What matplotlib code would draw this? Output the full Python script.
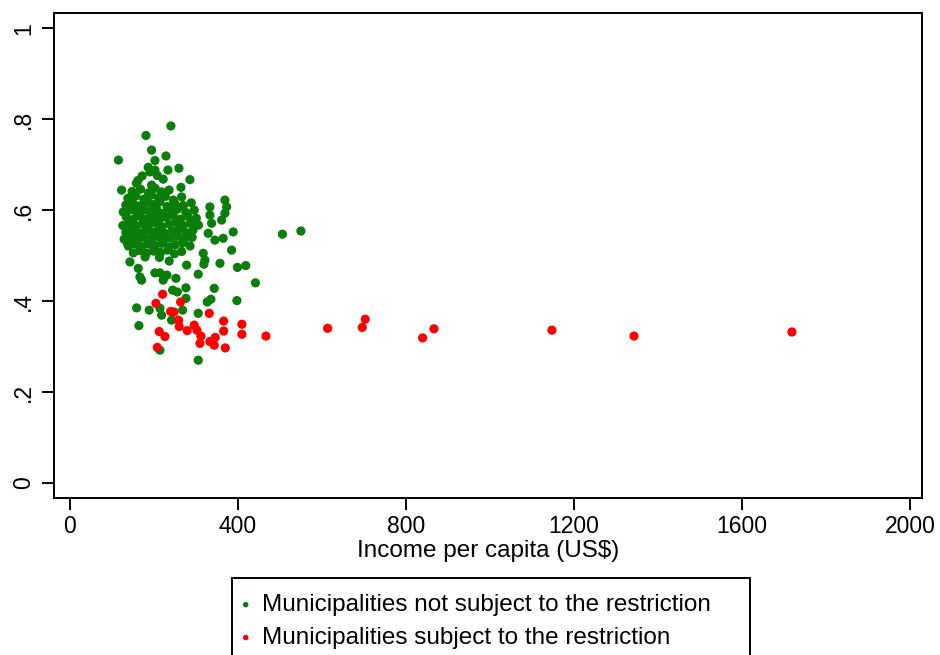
import matplotlib
matplotlib.use("Agg")
import matplotlib.pyplot as plt
from matplotlib.patches import Rectangle

# Municipalities not subject to the restriction: income per capita (US$) and share
green_income = [
    240.5, 181, 194.5, 228.6, 115.5, 202.4, 186.4, 202.4, 190.5, 233.3,
    259.5, 161.9, 158.3, 222.1, 285.7, 264.3, 194.5, 123.1, 369, 333.3,
    373, 333.3, 369, 337.4, 361.2, 388.8, 506, 550, 329.3, 345.2,
    365, 385, 136.4, 317.4, 321.4, 319, 357.2, 142.9, 236.4, 277.9,
    398.8, 418.6, 162.6, 166.7, 170.7, 202.4, 214.3, 231, 222.1, 252.4,
    305.5, 441.7, 244.5, 255.5, 276.2, 343.6, 276.2, 326.9, 335.7, 397.6,
    158.8, 188.8, 214.3, 218.3, 268.3, 305.5, 242.1, 164.3, 214.3, 305.5,
    # dense core
    148, 168, 187, 203, 218, 236,
    138, 157, 176, 194, 211, 227, 246, 266,
    133, 149, 164, 181, 199, 214, 231, 250, 270, 289,
    127, 143, 159, 174, 190, 206, 221, 241, 256, 276, 296,
    134, 151, 167, 183, 197, 212, 229, 246, 263, 281, 301,
    126, 141, 157, 172, 188, 204, 219, 237, 253, 270, 287, 306,
    133, 149, 165, 180, 196, 211, 226, 243, 259, 276, 293,
    129, 146, 161, 177, 193, 208, 223, 239, 256, 273, 291,
    139, 155, 171, 187, 203, 219, 236, 251, 268, 286,
    151, 166, 182, 199, 216, 233, 249, 266,
    179, 213,
    172, 208, 158, 196, 225, 185, 145, 215,
]
green_share = [
    0.785, 0.764, 0.732, 0.719, 0.710, 0.709, 0.694, 0.688, 0.684, 0.688,
    0.692, 0.665, 0.659, 0.668, 0.667, 0.650, 0.655, 0.644, 0.622, 0.607,
    0.607, 0.589, 0.593, 0.571, 0.578, 0.552, 0.547, 0.554, 0.549, 0.534,
    0.538, 0.512, 0.528, 0.505, 0.490, 0.481, 0.483, 0.486, 0.488, 0.479,
    0.474, 0.478, 0.472, 0.453, 0.446, 0.462, 0.462, 0.457, 0.446, 0.450,
    0.459, 0.440, 0.424, 0.420, 0.429, 0.428, 0.406, 0.398, 0.404, 0.401,
    0.385, 0.380, 0.384, 0.369, 0.380, 0.373, 0.358, 0.346, 0.292, 0.270,
    # dense core
    0.641, 0.646, 0.638, 0.648, 0.640, 0.644,
    0.626, 0.631, 0.624, 0.633, 0.627, 0.630, 0.622, 0.629,
    0.611, 0.617, 0.609, 0.615, 0.612, 0.618, 0.608, 0.614, 0.610, 0.616,
    0.596, 0.601, 0.594, 0.600, 0.597, 0.603, 0.593, 0.599, 0.602, 0.595, 0.600,
    0.585, 0.580, 0.587, 0.581, 0.586, 0.579, 0.584, 0.588, 0.580, 0.586, 0.582,
    0.566, 0.571, 0.565, 0.570, 0.568, 0.572, 0.564, 0.569, 0.573, 0.566, 0.571, 0.567,
    0.551, 0.556, 0.550, 0.555, 0.552, 0.557, 0.549, 0.554, 0.558, 0.551, 0.556,
    0.536, 0.541, 0.535, 0.540, 0.537, 0.542, 0.534, 0.539, 0.543, 0.536, 0.540,
    0.521, 0.526, 0.520, 0.525, 0.522, 0.527, 0.519, 0.524, 0.528, 0.521,
    0.506, 0.511, 0.505, 0.510, 0.507, 0.512, 0.504, 0.509,
    0.497, 0.496,
    0.675, 0.676, 0.604, 0.575, 0.545, 0.618, 0.562, 0.592,
]

# Municipalities subject to the restriction
red_income = [
    220.7, 204.8, 263.6, 239.8, 247.6, 258.8, 260.2, 212.6, 226.2, 279.3,
    296, 302.4, 311.9, 309.5, 331.7, 346, 333.3, 343.6, 366, 366,
    369.8, 409.5, 409.5, 466.7, 207.9, 613.6, 703.1, 696, 839.8, 866.7,
    1147.6, 1342.9, 1719,
]
red_share = [
    0.415, 0.395, 0.398, 0.377, 0.376, 0.358, 0.344, 0.333, 0.322, 0.335,
    0.347, 0.336, 0.323, 0.307, 0.373, 0.320, 0.311, 0.303, 0.356, 0.334,
    0.297, 0.349, 0.327, 0.323, 0.298, 0.340, 0.360, 0.342, 0.319, 0.339,
    0.336, 0.323, 0.332,
]

x_ticks = [0, 400, 800, 1200, 1600, 2000]
y_ticks = [0, 0.2, 0.4, 0.6, 0.8, 1.0]
y_tick_labels = ["0", ".2", ".4", ".6", ".8", "1"]

labels = ["Municipalities not subject to the restriction",
          "Municipalities subject to the restriction"]
green = "#0a7d0a"
red = "#ff0000"

plt.rcParams["font.family"] = ["Liberation Sans", "DejaVu Sans"]

W, H = 940, 655
fig = plt.figure(figsize=(W / 100, H / 100), dpi=100)
ax = fig.add_axes([0.0574, 0.2397, 0.9236, 0.7409])

ax.scatter(green_income, green_share, s=44, color=green, edgecolors="none",
           label=labels[0], zorder=2)
ax.scatter(red_income, red_share, s=44, color=red, edgecolors="none",
           label=labels[1], zorder=3)

ax.set_xlim(-38, 2029)
ax.set_ylim(-0.033, 1.034)
ax.set_xticks(x_ticks)
ax.set_xticklabels([str(t) for t in x_ticks])
ax.set_yticks(y_ticks)
ax.set_yticklabels(y_tick_labels, rotation=90, va="center")

for sp in ax.spines.values():
    sp.set_linewidth(1.4)
    sp.set_color("black")
ax.tick_params(axis="both", direction="out", length=8.5, width=1.4,
               labelsize=16.5, colors="black")
ax.tick_params(axis="y", pad=5)
ax.tick_params(axis="x", pad=3.5)

ax.set_xlabel("Income per capita (US$)", fontsize=17.5, labelpad=2)

# legend entries, framed by a wider box that runs off the bottom edge
leg = fig.legend(loc="upper left", bbox_to_anchor=(236 / W, 1 - 594 / H),
                 ncol=1, frameon=False, fontsize=17.5,
                 markerscale=0.6, handletextpad=0.27, handlelength=0.8,
                 borderpad=0, labelspacing=0.45, borderaxespad=0)
box = Rectangle((232 / W, -0.05), 518 / W, (1 - 578 / H) + 0.05,
                transform=fig.transFigure, fill=False, edgecolor="black",
                linewidth=1.4, clip_on=False)
fig.patches.append(box)

fig.savefig("out.png", dpi=100)
